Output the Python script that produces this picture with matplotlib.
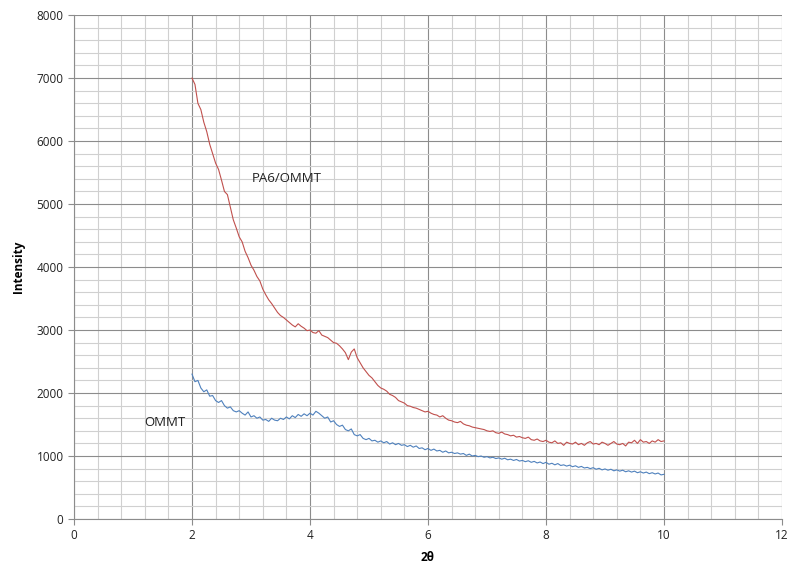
import matplotlib
matplotlib.use("Agg")
import matplotlib.pyplot as plt
import numpy as np
from matplotlib.ticker import MultipleLocator

plt.rcParams['font.family'] = ['Open Sans', 'DejaVu Sans']

# 2theta grid, 0.05 step from 2 to 10
two_theta = np.round(np.arange(2.0, 10.0001, 0.05), 2)

# PA6/OMMT intensity
pa6_ommt = [
    7000, 6900, 6600, 6500, 6300, 6150, 5950, 5800, 5650, 5550,
    5380, 5200, 5150, 4950, 4750, 4620, 4480, 4400, 4250, 4150,
    4030, 3950, 3850, 3780, 3650, 3560, 3480, 3420, 3350, 3280,
    3230, 3200, 3160, 3120, 3080, 3050, 3100, 3060, 3030, 2990,
    3000, 2960, 2950, 2990, 2920, 2900, 2880, 2840, 2800, 2790,
    2750, 2700, 2640, 2530, 2650, 2700, 2560, 2480, 2400, 2340,
    2280, 2240, 2180, 2120, 2080, 2060, 2030, 1980, 1960, 1930,
    1880, 1860, 1840, 1800, 1790, 1770, 1760, 1740, 1720, 1700,
    1710, 1680, 1660, 1650, 1620, 1640, 1600, 1570, 1560, 1540,
    1530, 1550, 1510, 1490, 1480, 1460, 1450, 1440, 1430, 1420,
    1400, 1390, 1400, 1370, 1360, 1380, 1350, 1340, 1320, 1330,
    1300, 1310, 1290, 1280, 1300, 1260, 1250, 1270, 1240, 1230,
    1250, 1220, 1210, 1240, 1200, 1210, 1170, 1220, 1200, 1190,
    1220, 1180, 1200, 1170, 1210, 1230, 1190, 1200, 1180, 1220,
    1200, 1170, 1200, 1230, 1190, 1180, 1200, 1160, 1220, 1210,
    1250, 1200, 1260, 1220, 1230, 1200, 1240, 1220, 1260, 1230,
    1240,
]

# OMMT intensity
ommt = [
    2300, 2180, 2200, 2080, 2020, 2050, 1950, 1960, 1880, 1850,
    1880, 1800, 1760, 1780, 1720, 1700, 1720, 1680, 1650, 1700,
    1620, 1640, 1600, 1620, 1570, 1580, 1550, 1600, 1570, 1560,
    1600, 1580, 1620, 1590, 1640, 1610, 1660, 1630, 1670, 1640,
    1680, 1650, 1710, 1680, 1640, 1600, 1620, 1540, 1560, 1500,
    1470, 1490, 1420, 1400, 1430, 1340, 1320, 1340, 1280, 1260,
    1280, 1240, 1250, 1220, 1240, 1210, 1230, 1190, 1210, 1180,
    1200, 1170, 1180, 1150, 1170, 1140, 1160, 1120, 1130, 1100,
    1120, 1090, 1110, 1080, 1090, 1060, 1080, 1050, 1060, 1040,
    1050, 1030, 1040, 1010, 1030, 1000, 1010, 990, 1000, 980,
    990, 970, 980, 960, 970, 950, 965, 940, 950, 930,
    945, 920, 930, 910, 925, 900, 915, 890, 905, 880,
    900, 870, 885, 860, 880, 850, 860, 840, 855, 830,
    845, 820, 835, 810, 820, 800, 815, 790, 805, 780,
    795, 775, 790, 765, 780, 760, 775, 750, 765, 745,
    760, 735, 750, 730, 745, 720, 735, 715, 730, 700,
    710,
]

fig = plt.figure(figsize=(8, 5.81), dpi=100)
ax = fig.add_axes([0.0925, 0.1067, 0.885, 0.8673])

ax.plot(two_theta, pa6_ommt, color="#c0504d", lw=0.8)
ax.plot(two_theta, ommt, color="#4f81bd", lw=0.8)

ax.set_xlim(0, 12)
ax.set_ylim(0, 8000)
ax.xaxis.set_major_locator(MultipleLocator(2))
ax.xaxis.set_minor_locator(MultipleLocator(0.4))
ax.yaxis.set_major_locator(MultipleLocator(1000))
ax.yaxis.set_minor_locator(MultipleLocator(200))
ax.grid(which="major", color="#8c8c8c", lw=0.8)
ax.grid(which="minor", color="#d0d0d0", lw=0.8)
ax.set_axisbelow(True)

for s in ["top", "right"]:
    ax.spines[s].set_visible(False)
for s in ["left", "bottom"]:
    ax.spines[s].set_color("#8c8c8c")
    ax.spines[s].set_linewidth(0.8)

ax.tick_params(which="major", length=4, color="#8c8c8c", labelsize=8.5, labelcolor="#222222")
ax.tick_params(which="minor", length=0)

ax.set_xlabel("2θ", fontsize=8.5, fontweight="bold", labelpad=6)
ax.set_ylabel("Intensity", fontsize=8.5, fontweight="bold", labelpad=8)

ax.text(3.6, 5400, "PA6/OMMT", fontsize=9.5, ha="center", va="center", color="#222222")
ax.text(1.54, 1540, "OMMT", fontsize=9.5, ha="center", va="center", color="#222222")

fig.savefig("out.png", dpi=100)
